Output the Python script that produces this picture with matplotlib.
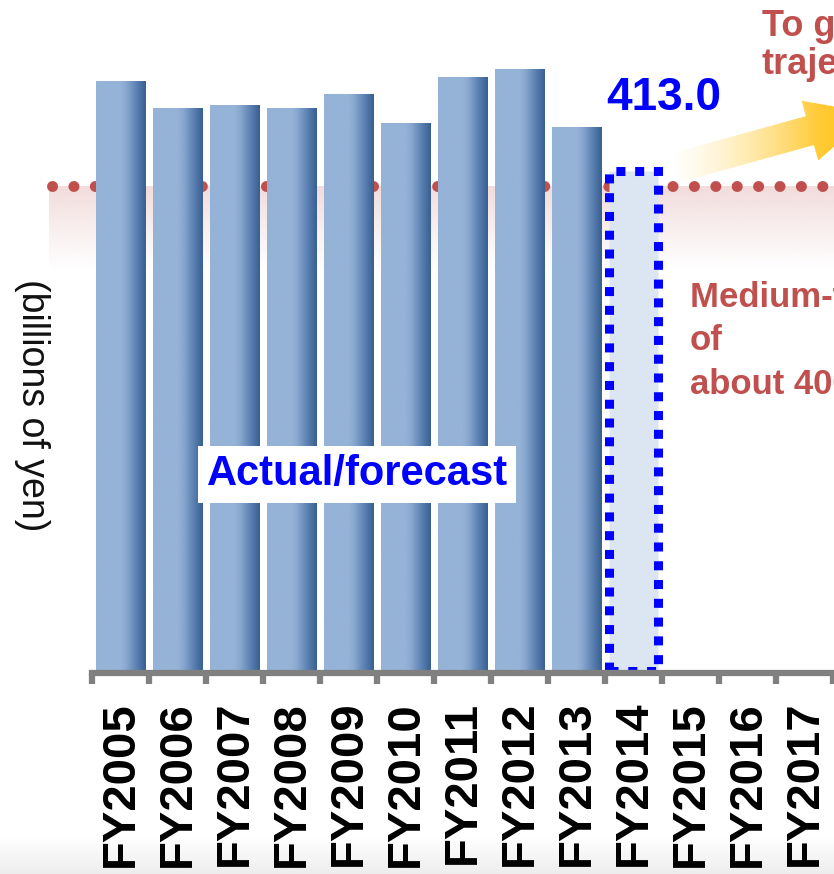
import numpy as np
import matplotlib
matplotlib.use("Agg")
import matplotlib.pyplot as plt
from matplotlib.colors import LinearSegmentedColormap, to_rgb
from matplotlib.patches import Polygon

plt.rcParams['font.family'] = ['Liberation Sans', 'DejaVu Sans']

# data (billions of yen)
years = ["FY2005", "FY2006", "FY2007", "FY2008", "FY2009", "FY2010", "FY2011",
         "FY2012", "FY2013", "FY2014", "FY2015", "FY2016", "FY2017"]
actual = [487, 465, 467, 465, 476, 452, 490, 497, 449]
forecast_idx = 9
forecast = 413.0
target = 400

RED = "#C0504D"
W, H = 834, 874

fig = plt.figure(figsize=(W / 100, H / 100), dpi=100)

# faint grey fade at the very bottom of the slide
bg = fig.add_axes([0, 0, 1, 1])
bg.set_zorder(-1)
bg.set_xlim(0, W); bg.set_ylim(H, 0); bg.axis("off")
fade = np.ones((64, 1, 3))
fade[:, 0, :] = np.linspace(1.0, 0.93, 64)[:, None]
bg.imshow(fade, extent=(0, W, H, 838), aspect="auto", interpolation="bilinear")

ax = fig.add_axes([92 / W, 201 / H, 798 / W, 673 / H])
ax.patch.set_visible(False)

# pink band just under the target line
band = np.zeros((64, 1, 4))
band[:, 0, :3] = to_rgb("#F2DCDC")
band[:, 0, 3] = np.linspace(1, 0, 64) ** 1.1
ax.imshow(band, extent=(-1.25, 13.5, 329, target), aspect="auto",
          interpolation="bilinear", zorder=1, clip_on=False)

# dotted target line
ax.plot([-1.2, 13.5], [target, target], color=RED, lw=7.9,
        linestyle=(0, (0.01, 1.94)), dash_capstyle="round", clip_on=False, zorder=2)

# actual bars with horizontal gradient
bar_cmap = LinearSegmentedColormap.from_list("barblue", [
    (0.0, "#95B3D7"), (0.5, "#95B3D7"), (0.6, "#8AA9CF"),
    (0.8, "#5E83B4"), (1.0, "#375F91")])
grad = bar_cmap(np.linspace(0, 1, 256))[None, :, :3]
x = np.arange(len(actual))
bars = ax.bar(x, actual, width=0.86, color="#95B3D7", zorder=3)
for b in bars:
    ax.imshow(grad, extent=(b.get_x(), b.get_x() + b.get_width(), 0, b.get_height()),
              aspect="auto", interpolation="bilinear", zorder=3.1)

# forecast bar
fb = ax.bar(forecast_idx, forecast, width=0.86, facecolor="#DCE6F2",
            edgecolor="#0000FF", linewidth=6.5, linestyle=(0, (1, 1.08)), zorder=3)
fb[0].set_capstyle("butt")
ax.annotate("%.1f" % forecast, (forecast_idx, forecast), xytext=(22, 52),
            textcoords="offset points", ha="center", va="center",
            fontsize=33, fontweight="bold", color="#0000FF")

ax.text(4.15, 162, "Actual/forecast", ha="center", va="center", fontsize=30,
        fontweight="bold", color="#0000FF", zorder=5,
        bbox=dict(facecolor="white", edgecolor="none", pad=6))

ax.set_xlim(-0.5, 13.5)
ax.set_ylim(-2, 554)

# axis styling
for s in ("top", "left", "right"):
    ax.spines[s].set_visible(False)
ax.spines["bottom"].set_color("#808080")
ax.spines["bottom"].set_linewidth(4.5)
ax.spines["bottom"].set_zorder(4)
ax.set_yticks([])
ax.set_xticks(np.arange(len(years)))
ax.set_xticklabels(years, rotation=90, fontsize=34, fontweight="bold")
ax.set_xticks(np.arange(-0.5, 13.5, 1), minor=True)
ax.tick_params(axis="x", which="major", length=0, pad=20)
ax.tick_params(axis="x", which="minor", length=8, width=4.5, color="#808080")

fig.text(32 / W, 1 - 405 / H, "(billions of yen)", rotation=270, ha="center",
         va="center", fontsize=27, color="#111111")

# overlay in pixel coords for the arrow and side notes
ov = fig.add_axes([0, 0, 1, 1])
ov.set_xlim(0, W); ov.set_ylim(H, 0); ov.axis("off")
a = np.deg2rad(15.5)
d = np.array([np.cos(a), -np.sin(a)])
n = np.array([np.sin(a), np.cos(a)])
tail = np.array([675, 168])
pts = [tail - 15 * n, tail + 140 * d - 15 * n, tail + 140 * d - 31 * n,
       tail + 205 * d, tail + 140 * d + 31 * n, tail + 140 * d + 15 * n, tail + 15 * n]
arrow = Polygon(pts, closed=True, facecolor="none", edgecolor="none")
ov.add_patch(arrow)
ag = np.zeros((1, 256, 4))
t = np.linspace(0, 1, 256)
ag[0, :, 0] = 1.0
ag[0, :, 1] = 0.90 - 0.12 * t
ag[0, :, 2] = 0.60 - 0.45 * t
ag[0, :, 3] = np.clip(t * 1.15, 0, 1)
im = ov.imshow(ag, extent=(672, 840, 200, 80), aspect="auto", interpolation="bilinear")
im.set_clip_path(arrow)

ov.text(762, 27, "To get back on a growth", ha="left", va="center",
        fontsize=26, fontweight="bold", color=RED)
ov.text(762, 65, "trajectory", ha="left", va="center",
        fontsize=26, fontweight="bold", color=RED)
ov.text(690, 298, "Medium-term target", ha="left", va="center",
        fontsize=25, fontweight="bold", color=RED)
ov.text(690, 341, "of", ha="left", va="center",
        fontsize=25, fontweight="bold", color=RED)
ov.text(690, 385, "about 400", ha="left", va="center",
        fontsize=25, fontweight="bold", color=RED)

fig.savefig("out.png", dpi=100)
